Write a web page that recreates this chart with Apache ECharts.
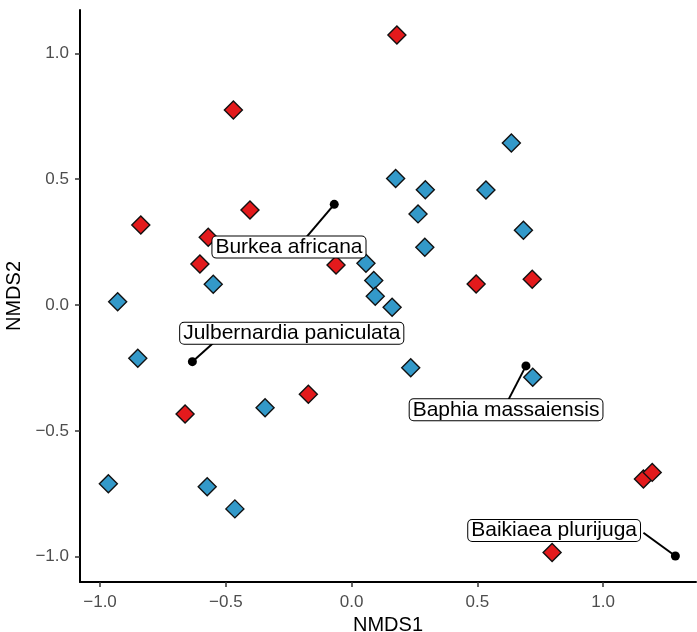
<!DOCTYPE html>
<html>
<head>
<meta charset="utf-8">
<script src="https://cdn.jsdelivr.net/npm/echarts@6/dist/echarts.min.js"></script>
<style>html,body{margin:0;padding:0;background:#fff}#c{width:697px;height:632px}</style>
</head>
<body>
<div id="c"></div>
<script>
// Site scores (NMDS1, NMDS2)
const redX = [0.180, -0.470, -0.838, -0.404, -0.570, -0.603, -0.062, 0.495, 0.718, -0.662, -0.172, 1.160, 1.195, 0.797];
const redY = [1.073, 0.775, 0.318, 0.377, 0.269, 0.163, 0.159, 0.083, 0.102, -0.433, -0.355, -0.691, -0.665, -0.983];
const blueX = [-0.930, -0.550, 0.175, 0.293, 0.264, 0.291, 0.635, 0.534, 0.683, 0.057, 0.088, 0.094, 0.161, -0.850, -0.344, -0.967, -0.574, -0.464, 0.235, 0.720];
const blueY = [0.013, 0.082, 0.503, 0.458, 0.362, 0.229, 0.644, 0.457, 0.297, 0.166, 0.097, 0.035, -0.009, -0.212, -0.408, -0.710, -0.722, -0.810, -0.249, -0.287];
// Species vectors and their repelled labels
const species = ['Burkea africana', 'Julbernardia paniculata', 'Baphia massaiensis', 'Baikiaea plurijuga'];
const spX = [-0.069, -0.633, 0.693, 1.287];
const spY = [0.400, -0.225, -0.242, -0.997];
const segX = [-0.183, -0.550, 0.623, 1.160];
const segY = [0.266, -0.151, -0.377, -0.905];
const labX = [-0.249, -0.238, 0.614, 0.805];
const labY = [0.230, -0.112, -0.416, -0.896];
const ticks = [-1.0, -0.5, 0.0, 0.5, 1.0];

const fmt = v => (v < 0 ? '\u2212' : '') + Math.abs(v).toFixed(1);
const zip = (a, b) => a.map((v, i) => [v, b[i]]);
const FONT = 'Liberation Sans, Arial, Helvetica, sans-serif';

const series = [];
const diamond = (data, color) => ({
  type: 'scatter', data, symbol: 'diamond', symbolSize: 18, z: 3,
  itemStyle: { color, borderColor: '#111', borderWidth: 1.4, opacity: 1 },
  emphasis: { disabled: true }
});
series.push(diamond(zip(redX, redY), '#E31A1C'));
series.push(diamond(zip(blueX, blueY), '#3399C9'));

species.forEach((s, i) => {
  series.push({
    type: 'line', data: [[spX[i], spY[i]], [segX[i], segY[i]]], showSymbol: false, z: 4,
    lineStyle: { color: '#000', width: 2 }, silent: true
  });
});
series.push({
  type: 'scatter', data: zip(spX, spY), symbol: 'circle', symbolSize: 9, z: 5,
  itemStyle: { color: '#000', opacity: 1 }, silent: true
});
series.push({
  type: 'scatter', z: 10, symbolSize: 1, itemStyle: { color: '#fff', opacity: 1 }, silent: true,
  data: species.map((s, i) => ({ value: [labX[i], labY[i]], name: s })),
  label: {
    show: true, position: 'inside', formatter: p => p.name, opacity: 1,
    fontFamily: FONT, fontSize: 21, color: '#000', lineHeight: 20,
    backgroundColor: '#fff', borderColor: '#000', borderWidth: 1, borderRadius: 4,
    padding: [1, 3, 0, 3], textBorderWidth: 0
  }
});

const axisCommon = {
  axisLine: { show: true, onZero: false, lineStyle: { color: '#000', width: 2 } },
  axisTick: { show: true, customValues: ticks, length: 5, lineStyle: { color: '#333', width: 1.5 } },
  splitLine: { show: false },
  nameTextStyle: { color: '#000', fontSize: 20, fontFamily: FONT }
};
const lbl = m => ({ customValues: ticks, formatter: fmt, color: '#4D4D4D', fontSize: 17, fontFamily: FONT, margin: m });

const chart = echarts.init(document.getElementById('c'), null, { renderer: 'canvas' });
chart.setOption({
  animation: false,
  backgroundColor: '#fff',
  grid: { left: 80, right: 1, top: 10, bottom: 50, containLabel: false, outerBoundsMode: 'none' },
  xAxis: Object.assign({ type: 'value', min: -1.0797, max: 1.369, name: 'NMDS1', nameLocation: 'middle', nameGap: 32, axisLabel: lbl(12) }, axisCommon),
  yAxis: Object.assign({ type: 'value', min: -1.1005, max: 1.172, name: 'NMDS2', nameLocation: 'middle', nameGap: 52, axisLabel: lbl(11) }, axisCommon),
  series
});
</script>
</body>
</html>
